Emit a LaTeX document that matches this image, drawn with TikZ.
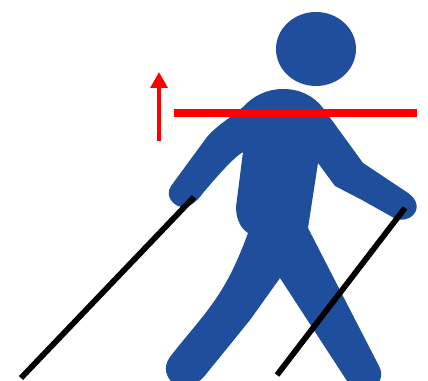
\documentclass[tikz,border=0pt]{standalone}
\usepackage{tikz}
\usetikzlibrary{arrows.meta,positioning,calc}
\definecolor{walker}{HTML}{1F4E9C}
\definecolor{marker}{HTML}{FF0000}
\tikzset{figure/.style={fill=walker,draw=none},
  pole/.style={line width=4.3pt,draw=black},
  level/.style={line width=6pt,draw=marker},
  lift/.style={line width=3pt,draw=marker,-{Triangle[length=12pt,width=12.5pt]}}}

\begin{document}
\begin{tikzpicture}[x=.75pt,y=-.75pt]
\useasboundingbox (0,0) rectangle (428,381);
\clip (0,0) rectangle (428,381);
\fill[figure] (316,49) ellipse (40 and 37);
% body, clockwise from the shoulder
\fill[figure] (283,89) .. controls (300,89) and (314,96) .. (323,108)
  -- (363,163) -- (408,193)
  .. controls (417,199) and (419,208) .. (414,214)
  .. controls (409,220) and (402,221) .. (394,218)
  -- (362,200) -- (335,186) -- (318,163) -- (308,228)
  -- (380,368)
  .. controls (384,378) and (378,390) .. (362,392)
  .. controls (354,392) and (350,387) .. (347,381)
  -- (280,278) -- (250,320) -- (207,373)
  .. controls (198,386) and (180,392) .. (170,380)
  .. controls (164,372) and (165,364) .. (170,357)
  .. controls (186,336) and (204,317) .. (217,297)
  .. controls (230,278) and (240,255) .. (248,233)
  .. controls (240,228) and (236,218) .. (236,207)
  -- (243,152) .. controls (235,157) and (225,167) .. (203,193)
  .. controls (196,203) and (188,208) .. (181,207)
  .. controls (172,205) and (165,195) .. (171,186)
  -- (207,137) .. controls (215,127) and (230,118) .. (243,107)
  .. controls (253,96) and (267,89) .. (283,89) -- cycle;
% walking poles
\coordinate (poleL) at (194,197);
\coordinate (tipL) at (21,378);
\coordinate (poleR) at (405,208);
\coordinate (tipR) at (277,375);
\draw[pole] (poleL)--(tipL);
\draw[pole] (poleR)--(tipR);
% shoulder line and arrow
\coordinate (barL) at (174,113);
\coordinate (barR) at (417,113);
\draw[level] (barL)--(barR);
\coordinate (liftA) at (159,141);
\coordinate (liftB) at (159,72);
\draw[lift] (liftA)--(liftB);
\end{tikzpicture}
\end{document}
